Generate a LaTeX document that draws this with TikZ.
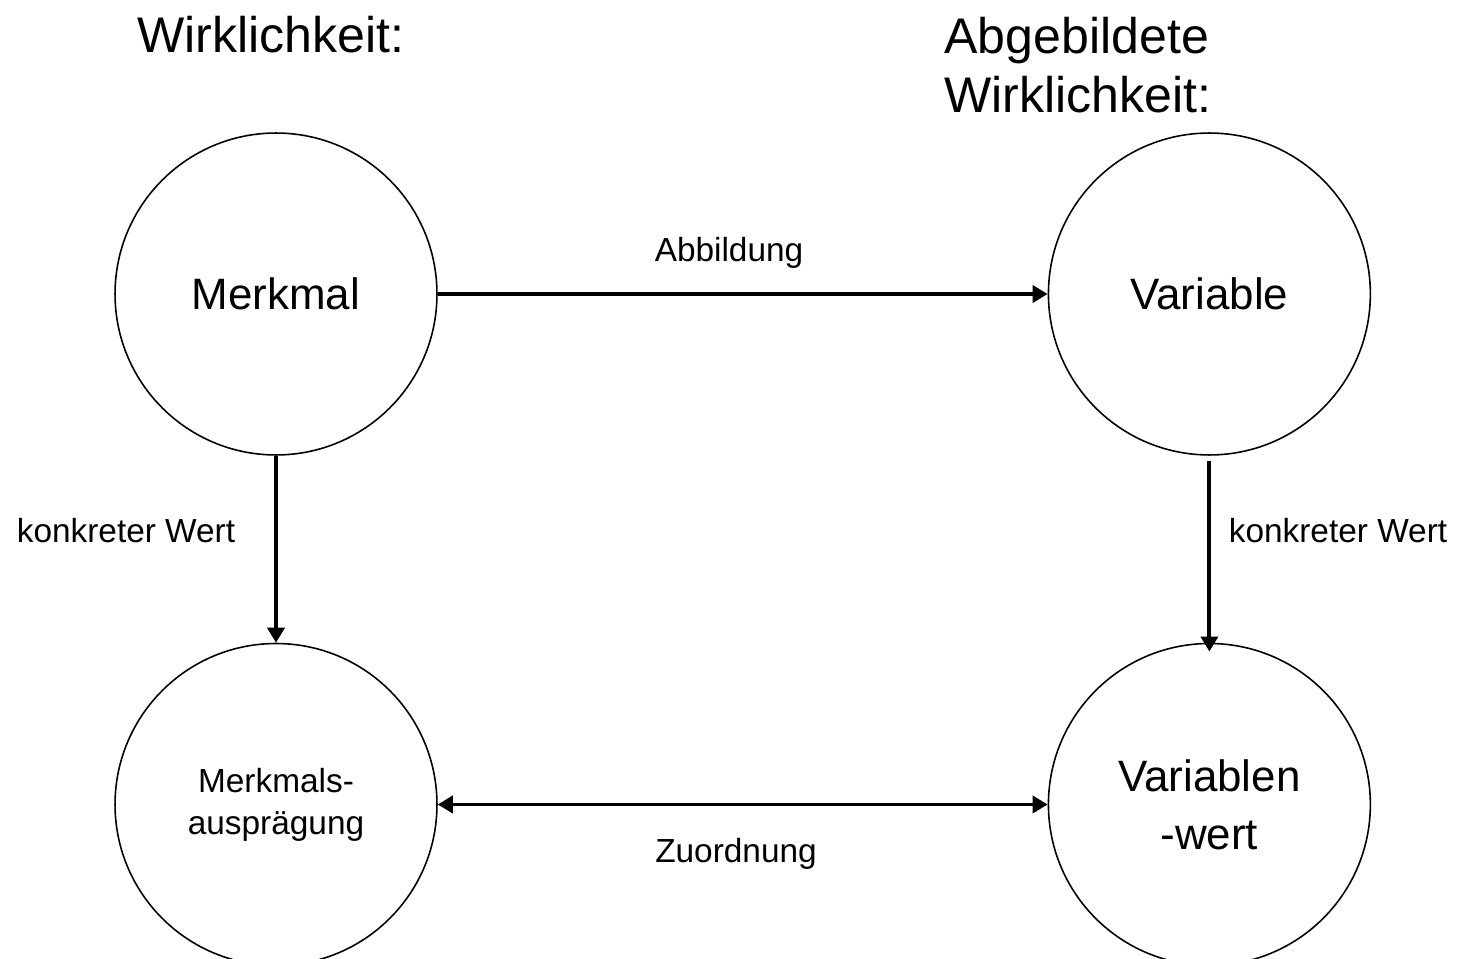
\documentclass[tikz,border=0pt]{standalone}
\usepackage{fontspec}
\setmainfont{Liberation Sans}
\usetikzlibrary{arrows.meta,positioning}

\begin{document}
\begin{tikzpicture}[
    x=0.02cm, y=-0.02cm,
    font=\fontsize{19}{23}\selectfont,
    kreis/.style={circle, draw=black, line width=0.9pt, minimum size=6.44cm, inner sep=0pt, align=center},
    gross/.style={font=\fontsize{25}{31}\selectfont},
    titel/.style={font=\fontsize{28.5}{34}\selectfont},
    pfeil/.style={-{Triangle[length=0.3cm,width=0.34cm]}, line width=2.2pt},
    doppel/.style={{Triangle[length=0.3cm,width=0.34cm]}-{Triangle[length=0.3cm,width=0.34cm]}, line width=2.2pt}
]
\useasboundingbox (0,0) rectangle (1457,959);
\clip (0,0) rectangle (1457,959);

\node[titel] (wirk) at (271,35) {Wirklichkeit:};
\node[titel, align=left] (abgeb) at (1078,65) {Abgebildete\\Wirklichkeit:};

\node[kreis, gross] (merkmal) at (276,294) {Merkmal};
\node[kreis, gross, right=12.2cm of merkmal] (variable) {Variable};
\node[kreis, font=\fontsize{19}{24}\selectfont, below=3.74cm of merkmal] (auspraegung) {Merkmals-\\ausprägung};
\node[kreis, font=\fontsize{25}{33}\selectfont, below=3.74cm of variable] (varwert) {Variablen\\-wert};

\node (abb) at (729,253) {Abbildung};
\node (zuord) at (736,854) {Zuordnung};
\node (wertl) at (126,531) {konkreter Wert};
\node (wertr) at (1338,531) {konkreter Wert};

\draw[pfeil] (merkmal) -- (variable);
\draw[pfeil] (merkmal) -- (auspraegung);
\draw[pfeil, shorten <=3pt] (variable) -- ([yshift=-5pt]varwert.north);
\draw[doppel] (auspraegung) -- (varwert);
\end{tikzpicture}
\end{document}
